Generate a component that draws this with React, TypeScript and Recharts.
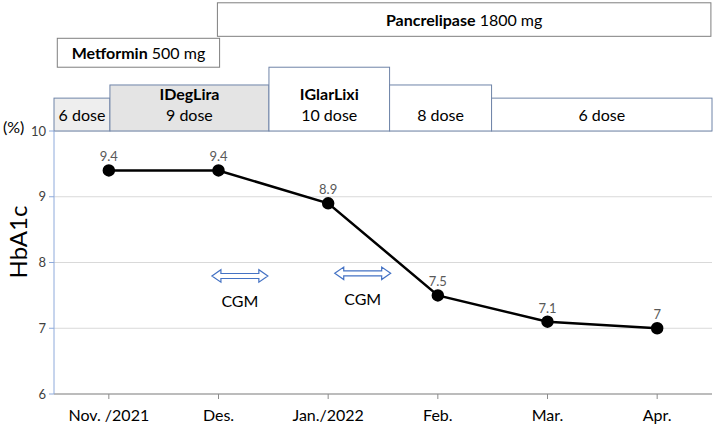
import React from "react";
import {
  LineChart,
  Line,
  XAxis,
  YAxis,
  CartesianGrid,
  LabelList,
  ReferenceArea,
  Customized,
} from "recharts";

const months = ["Nov. /2021", "Des.", "Jan./2022", "Feb.", "Mar.", "Apr."];
const hba1c = [9.4, 9.4, 8.9, 7.5, 7.1, 7];
const yTicks = [6, 7, 8, 9, 10];

// treatment boxes above the plot, in axis units (x: month index, y: HbA1c)
const doseBoxes = [
  { x1: -0.5, x2: 0.01, top: 10.5, bold: "", text: "6 dose", fill: "#eeeeee" },
  { x1: 0.01, x2: 1.46, top: 10.7, bold: "IDegLira", text: "9 dose", fill: "#e4e4e4" },
  { x1: 1.46, x2: 2.56, top: 10.97, bold: "IGlarLixi", text: "10 dose", fill: "#ffffff" },
  { x1: 2.56, x2: 3.49, top: 10.7, bold: "", text: "8 dose", fill: "#ffffff" },
  { x1: 3.49, x2: 5.5, top: 10.5, bold: "", text: "6 dose", fill: "#ffffff" },
];
const drugBoxes = [
  { x1: -0.47, x2: 1.01, y1: 10.97, y2: 11.41, bold: "Metformin", text: " 500 mg" },
  { x1: 0.99, x2: 5.49, y1: 11.44, y2: 11.95, bold: "Pancrelipase", text: " 1800 mg" },
];
const cgm = [
  { x1: 0.94, x2: 1.45 },
  { x1: 2.06, x2: 2.57 },
];

const data = months.map((m, i) => ({ idx: i, month: m, value: hba1c[i] }));
const font = "Lato, 'Open Sans', sans-serif";

const DoseShape = (box: (typeof doseBoxes)[number]) => (props: any) => {
  const { x, y, width, height } = props;
  const cx = x + width / 2;
  return (
    <g>
      <rect x={x} y={y} width={width} height={height} fill={box.fill} stroke="#6f84a8" strokeWidth={1} />
      {box.bold ? (
        <text x={cx} y={y + height - 31} textAnchor="middle" fontSize={16} fontWeight="bold" fill="#000" fontFamily={font}>
          {box.bold}
        </text>
      ) : null}
      <text x={cx} y={y + height - 10} textAnchor="middle" fontSize={16} fill="#000" fontFamily={font}>
        {box.text}
      </text>
    </g>
  );
};

const DrugShape = (box: (typeof drugBoxes)[number]) => (props: any) => {
  const { x, y, width, height } = props;
  return (
    <g>
      <rect x={x} y={y} width={width} height={height} fill="#fff" stroke="#7f7f7f" strokeWidth={1} />
      <text x={x + width / 2} y={y + height / 2 + 6} textAnchor="middle" fontSize={16} fill="#000" fontFamily={font}>
        <tspan fontWeight="bold">{box.bold}</tspan>
        <tspan>{box.text}</tspan>
      </text>
    </g>
  );
};

const ArrowShape = (props: any) => {
  const { x, y, width, height } = props;
  const h = height;
  const mid = y + h / 2;
  const head = 9;
  const shaft = 2.5;
  const d = [
    `M${x},${mid}`,
    `L${x + head},${y}`,
    `L${x + head},${mid - shaft}`,
    `L${x + width - head},${mid - shaft}`,
    `L${x + width - head},${y}`,
    `L${x + width},${mid}`,
    `L${x + width - head},${y + h}`,
    `L${x + width - head},${mid + shaft}`,
    `L${x + head},${mid + shaft}`,
    `L${x + head},${y + h}`,
    "Z",
  ].join(" ");
  return (
    <g>
      <path d={d} fill="#fff" stroke="#4472c4" strokeWidth={1.2} />
      <text x={x + width / 2} y={y + h + 25} textAnchor="middle" fontSize={16} fill="#000" fontFamily={font}>
        CGM
      </text>
    </g>
  );
};

const AxisTitles = () => (
  <g fontFamily={font}>
    <text x={3} y={133} fontSize={16} fill="#000">
      (%)
    </text>
    <text x={27} y={242} fontSize={24} fill="#000" textAnchor="middle" transform="rotate(-90 27 242)">
      HbA1c
    </text>
  </g>
);

export default function App() {
  return (
    <div style={{ position: "absolute", left: 0, top: 0, background: "#fff" }}>
      <LineChart width={713} height={431} data={data} margin={{ top: 131, right: 1, left: 0, bottom: 0 }}>
        <CartesianGrid vertical={false} stroke="#d9d9d9" />
        <XAxis
          dataKey="idx"
          type="number"
          domain={[-0.5, 5.5]}
          ticks={[0, 1, 2, 3, 4, 5]}
          tickFormatter={(i: number) => months[i]}
          height={37}
          stroke="#8c8c8c"
          tickSize={5}
          tickMargin={11}
          tick={{ fill: "#000", fontSize: 16, fontFamily: font }}
        />
        <YAxis
          domain={[6, 10]}
          ticks={yTicks}
          width={54}
          stroke="#8eaadb"
          tickSize={5}
          tickMargin={3}
          tick={{ fill: "#404040", fontSize: 13, fontFamily: font }}
        />
        {doseBoxes.map((b, i) => (
          <ReferenceArea
            key={"d" + i}
            x1={b.x1}
            x2={b.x2}
            y1={10}
            y2={b.top}
            ifOverflow="visible"
            shape={DoseShape(b)}
          />
        ))}
        {drugBoxes.map((b, i) => (
          <ReferenceArea
            key={"m" + i}
            x1={b.x1}
            x2={b.x2}
            y1={b.y1}
            y2={b.y2}
            ifOverflow="visible"
            shape={DrugShape(b)}
          />
        ))}
        {cgm.map((c, i) => (
          <ReferenceArea
            key={"c" + i}
            x1={c.x1}
            x2={c.x2}
            y1={7.7 + i * 0.04}
            y2={7.89 + i * 0.04}
            ifOverflow="visible"
            shape={ArrowShape}
          />
        ))}
        <Line
          dataKey="value"
          stroke="#000"
          strokeWidth={2.5}
          dot={{ r: 5, fill: "#000", stroke: "#000" }}
          isAnimationActive={false}
        >
          <LabelList dataKey="value" position="top" offset={9} fill="#595959" fontSize={13} fontFamily={font} />
        </Line>
        <Customized component={AxisTitles} />
      </LineChart>
    </div>
  );
}
